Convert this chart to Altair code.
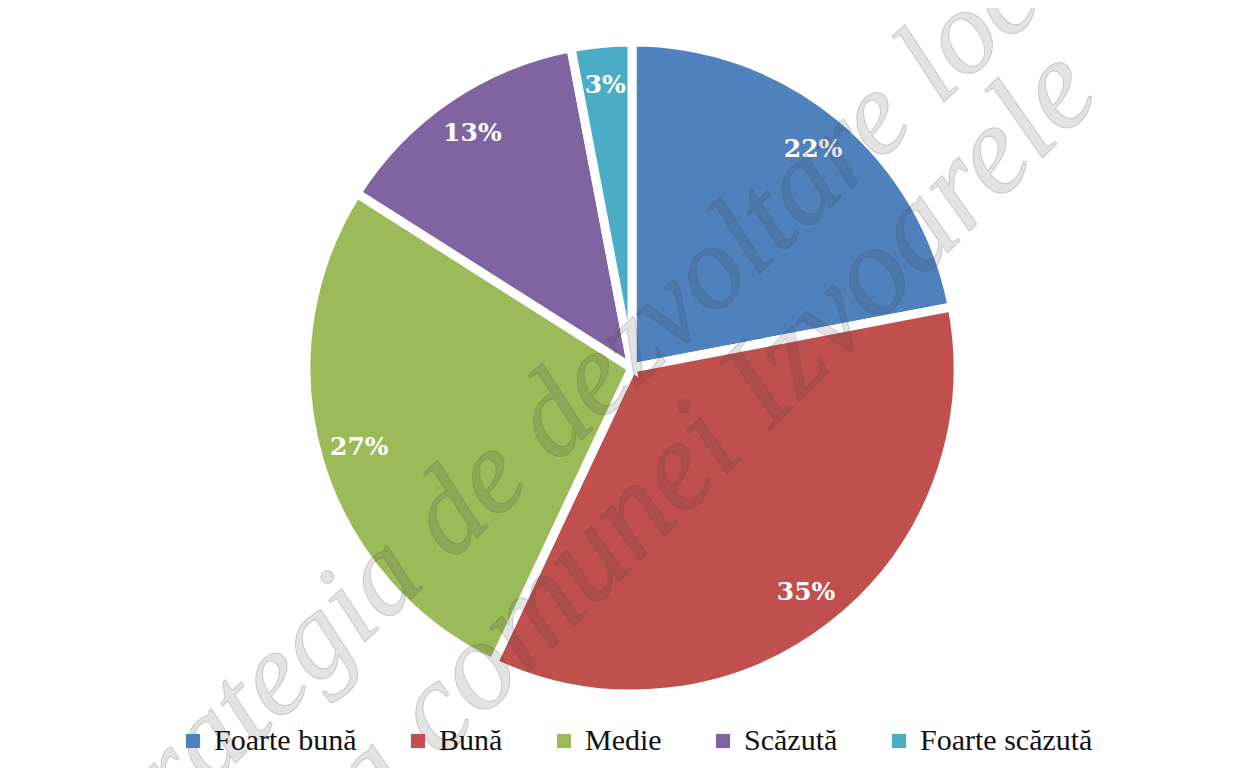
import altair as alt
import pandas as pd

categories = ["Foarte bună", "Bună", "Medie", "Scăzută", "Foarte scăzută"]
values = [22, 35, 27, 13, 3]
labels = ["22%", "35%", "27%", "13%", "3%"]
colors = ["#4f81bd", "#c0504d", "#9bbb59", "#8064a2", "#4bacc6"]

watermark_lines = ["Strategia de dezvoltare locală", "a comunei Izvoarele"]

df = pd.DataFrame({"cat": categories, "val": values, "lab": labels, "order": list(range(5))})

CX, CY = 624, 360

base = alt.Chart(df).encode(
    theta=alt.Theta("val:Q", stack=True),
    order=alt.Order("order:Q"),
)

pie = base.mark_arc(outerRadius=326, stroke="white", strokeWidth=9).encode(
    x=alt.value(CX),
    y=alt.value(CY),
    color=alt.Color(
        "cat:N",
        scale=alt.Scale(domain=categories, range=colors),
        sort=categories,
        legend=alt.Legend(
            title=None,
            orient="none",
            direction="horizontal",
            legendX=170,
            legendY=718,
            symbolType="square",
            symbolSize=200,
            symbolStrokeWidth=0,
            labelFont="Liberation Serif",
            labelFontSize=30,
            labelColor="#111111",
            columnPadding=46,
            labelOffset=6,
            labelLimit=400,
        ),
    ),
)

text = base.mark_text(
    radius=284, font="DejaVu Serif", fontWeight="bold", fontSize=25, fill="white"
).encode(text="lab:N", x=alt.value(CX), y=alt.value(CY))

wm_df = pd.DataFrame({"t": watermark_lines})
wm_style = dict(
    font="Liberation Serif", fontStyle="italic",
    fill="#3a3a3a", fillOpacity=0.14, stroke="#555555", strokeOpacity=0.25, strokeWidth=1,
    align="center", baseline="middle",
)
wm1 = alt.Chart(wm_df[wm_df.t == watermark_lines[0]]).mark_text(
    angle=317, fontSize=120, **wm_style
).encode(text="t:N", x=alt.value(600), y=alt.value(358))
wm2 = alt.Chart(wm_df[wm_df.t == watermark_lines[1]]).mark_text(
    angle=315, fontSize=128, **wm_style
).encode(text="t:N", x=alt.value(703), y=alt.value(428))

chart = alt.layer(pie, text, wm1, wm2).properties(
    width=1236, height=760, padding=0, background="white",
    autosize=alt.AutoSizeParams(type="none"),
).configure_view(stroke=None)

chart.save("out.html", embed_options={"renderer": "svg", "actions": False})
